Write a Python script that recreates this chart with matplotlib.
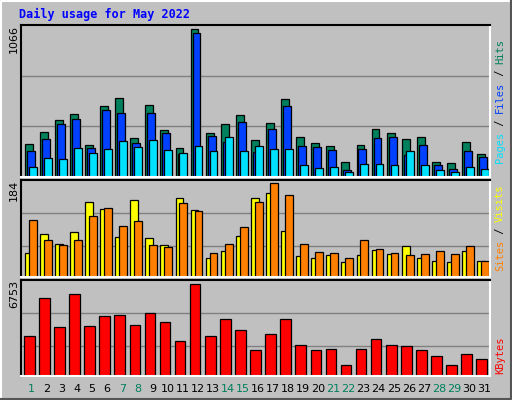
import matplotlib
matplotlib.use("Agg")
import matplotlib.pyplot as plt
import numpy as np
from matplotlib.lines import Line2D

days = list(range(1, 32))
weekend = [1, 7, 8, 14, 15, 21, 22, 28, 29]
hits = [241,328,408,458,234,509,567,285,523,342,212,1066,321,386,444,270,393,560,292,248,227,111,234,350,321,277,292,111,104,256,169]
files = [191,277,379,422,212,480,465,248,465,314,169,1037,299,256,400,183,350,509,227,219,198,53,205,285,292,162,234,89,60,191,147]
pages = [75,140,133,212,176,205,263,219,270,198,176,227,191,292,191,227,205,205,89,68,75,39,96,96,89,191,89,53,39,75,60]
sites = [48,84,64,88,148,134,78,152,76,62,156,132,37,52,80,156,166,90,42,37,44,29,44,54,46,60,37,31,29,52,31]
visits = [112,72,62,72,120,136,100,110,62,58,146,130,48,64,98,148,184,162,64,50,48,37,72,56,48,44,46,52,46,60,31]
kbytes = [2909,5718,3574,6014,3648,4387,4461,3722,4609,3944,2539,6753,2909,4165,3352,1873,3056,4165,2243,1873,1947,838,1947,2687,2243,2169,1873,1430,838,1577,1208]

W, H = 512, 400
fig = plt.figure(figsize=(W/100, H/100), dpi=100)
fig.patch.set_facecolor("#C0C0C0")
fig.add_artist(Line2D([0.5/W, 0.5/W, 1-0.5/W], [0, 1-0.5/H, 1-0.5/H], color="white", lw=1.5, transform=fig.transFigure))
fig.add_artist(Line2D([0.5/W, 1-1/W, 1-1/W], [1/H, 1/H, 1-0.5/H], color="#555555", lw=1.5, transform=fig.transFigure))

def ax_at(x0, y0, x1, y1):
    ax = fig.add_axes([x0/W, 1-y1/H, (x1-x0)/W, (y1-y0)/H])
    ax.set_facecolor("#C0C0C0")
    for s in ("top", "left"):
        ax.spines[s].set_color("black")
    for s in ("bottom", "right"):
        ax.spines[s].set_color("white")
    for s in ax.spines.values():
        s.set_linewidth(1.5)
    ax.set_xticks([]); ax.set_yticks([])
    ax.set_xlim(0.45, 31.55)
    return ax

x = np.array(days, dtype=float)
kw = dict(edgecolor="black", linewidth=0.9, align="edge")

ax1 = ax_at(21, 25, 490, 177)
ax1.set_ylim(0, 1097)
for g in (365, 731):
    ax1.axhline(g, color="#808080", lw=1, zorder=0)
ax1.bar(x - 0.3, hits, 0.52, color="#00805C", **kw)
ax1.bar(x - 0.17, files, 0.52, color="#0040FF", **kw)
ax1.bar(x - 0.04, pages, 0.52, color="#00E0FF", **kw)

ax2 = ax_at(21, 180, 490, 277)
ax2.set_ylim(0, 190.6)
for g in (61, 126):
    ax2.axhline(g, color="#808080", lw=1, zorder=0)
ax2.bar(x - 0.3, sites, 0.52, color="#FFFF00", **kw)
ax2.bar(x - 0.04, visits, 0.52, color="#FF8000", **kw)

ax3 = ax_at(21, 280, 490, 376)
ax3.set_ylim(0, 7019)
for g in (2172, 4610):
    ax3.axhline(g, color="#808080", lw=1, zorder=0)
ax3.bar(x - 0.35, kbytes, 0.7, color="#FF0000", **kw)

mono = "DejaVu Sans Mono"
fig.text(19/W, 1-14/H, "Daily usage for May 2022", color="#0000FF", fontweight="bold",
         family=mono, fontsize=8.5, va="center", ha="left")

for yy, t in ((25, "1066"), (180, "184"), (280, "6753")):
    fig.text(14/W, 1-yy/H, t, rotation=90, fontsize=8, va="top", ha="center", family="DejaVu Sans")

def right_label(y_center, parts):
    total = sum(len(p) for p, _ in parts)
    ch = 6.2
    y = y_center + total * ch / 2
    for p, c in parts:
        fig.text(500/W, 1-y/H, p, rotation=90, color=c, family=mono, fontsize=7.5,
                 va="bottom", ha="center")
        y -= len(p) * ch

right_label(101, [("Pages", "#00E0FF"), (" / ", "black"), ("Files", "#0040FF"), (" / ", "black"), ("Hits", "#00805C")])
right_label(228, [("Sites", "#FF8000"), (" / ", "black"), ("Visits", "#FFFF00")])
right_label(355, [("KBytes", "#FF0000")])

for d in days:
    xp = 21 + (d - 0.45) / 31.1 * (490 - 21) + 2.5
    fig.text(xp/W, 1-389/H, str(d), ha="center", va="center", fontsize=8,
             color="#00805C" if d in weekend else "black")

fig.savefig("out.png", dpi=100, facecolor=fig.get_facecolor())
